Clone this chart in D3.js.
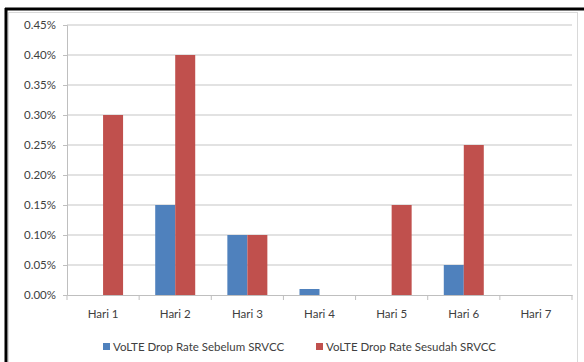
<!DOCTYPE html>
<html>
<head>
<meta charset="utf-8">
<script src="https://cdn.jsdelivr.net/npm/d3@7"></script>
<style>
  html, body { margin: 0; padding: 0; background: #fff; }
  svg { display: block; }
  text { font-family: Lato, "Open Sans", sans-serif; fill: #404040; }
</style>
</head>
<body>
<svg id="chart" width="584" height="362"></svg>
<script>
// Daily VoLTE drop rate, before and after SRVCC
const categories = ["Hari 1", "Hari 2", "Hari 3", "Hari 4", "Hari 5", "Hari 6", "Hari 7"];
const seriesNames = ["VoLTE Drop Rate Sebelum SRVCC", "VoLTE Drop Rate Sesudah SRVCC"];
const sebelum = [0, 0.0015, 0.0010, 0.0001, 0, 0.0005, 0];
const sesudah = [0.0030, 0.0040, 0.0010, 0, 0.0015, 0.0025, 0];
const yTicks = [0, 0.0005, 0.0010, 0.0015, 0.0020, 0.0025, 0.0030, 0.0035, 0.0040, 0.0045];
const colors = ["#4F81BD", "#C0504D"];

const svg = d3.select("#chart");
const plot = { left: 67, right: 572, top: 25, bottom: 295 };
const fontSize = "11.5px";

// outer frame: heavy black top/left edges, light inner chart border
svg.append("rect").attr("x", 8.5).attr("y", 12.5).attr("width", 569).attr("height", 360)
  .attr("fill", "#fff").attr("stroke", "#d9d9d9").attr("stroke-width", 1);
svg.append("line").attr("x1", 5).attr("x2", 584).attr("y1", 9).attr("y2", 9)
  .attr("stroke", "#000").attr("stroke-width", 3);
svg.append("line").attr("x1", 6).attr("x2", 6).attr("y1", 8).attr("y2", 362)
  .attr("stroke", "#000").attr("stroke-width", 3);

const x = d3.scaleBand().domain(categories).range([plot.left, plot.right]);
const y = d3.scaleLinear().domain([0, 0.0045]).range([plot.bottom, plot.top]);
const barW = 20;

// gridlines
svg.append("g").selectAll("line").data(yTicks.slice(1)).join("line")
  .attr("x1", plot.left).attr("x2", plot.right)
  .attr("y1", d => y(d)).attr("y2", d => y(d))
  .attr("stroke", "#d9d9d9").attr("stroke-width", 1.5);

// y axis
const yAxis = svg.append("g").attr("transform", `translate(${plot.left},0)`)
  .call(d3.axisLeft(y).tickValues(yTicks).tickFormat(d3.format(".2%")).tickSize(4));
yAxis.select(".domain").attr("stroke", "#bfbfbf");
yAxis.selectAll(".tick line").attr("stroke", "#bfbfbf");
yAxis.selectAll(".tick text").attr("x", -11).style("font-size", fontSize).attr("fill", "#404040");

// bars
const groups = [sebelum, sesudah];
groups.forEach((vals, si) => {
  svg.append("g").selectAll("rect").data(vals).join("rect")
    .attr("x", (d, i) => x(categories[i]) + x.bandwidth() / 2 - barW + si * barW)
    .attr("y", d => y(d))
    .attr("width", barW)
    .attr("height", d => y(0) - y(d))
    .attr("fill", colors[si]);
});

// x axis with ticks at category boundaries
const xAxis = svg.append("g").attr("transform", `translate(0,${plot.bottom})`)
  .call(d3.axisBottom(x).tickSize(0).tickPadding(15));
xAxis.select(".domain").attr("stroke", "#bfbfbf");
xAxis.selectAll(".tick text").style("font-size", fontSize).attr("fill", "#404040");
const bounds = categories.map(c => x(c)).concat([x.range()[1]]);
xAxis.append("g").selectAll("line").data(bounds).join("line")
  .attr("x1", d => d).attr("x2", d => d).attr("y1", 0).attr("y2", 5)
  .attr("stroke", "#bfbfbf");

// legend
const legendX = [103, 316];
const legend = svg.append("g");
seriesNames.forEach((name, i) => {
  legend.append("rect").attr("x", legendX[i]).attr("y", 343).attr("width", 7).attr("height", 7)
    .attr("fill", colors[i]);
  legend.append("text").attr("x", legendX[i] + 10).attr("y", 350.5)
    .style("font-size", fontSize).text(name);
});
</script>
</body>
</html>
